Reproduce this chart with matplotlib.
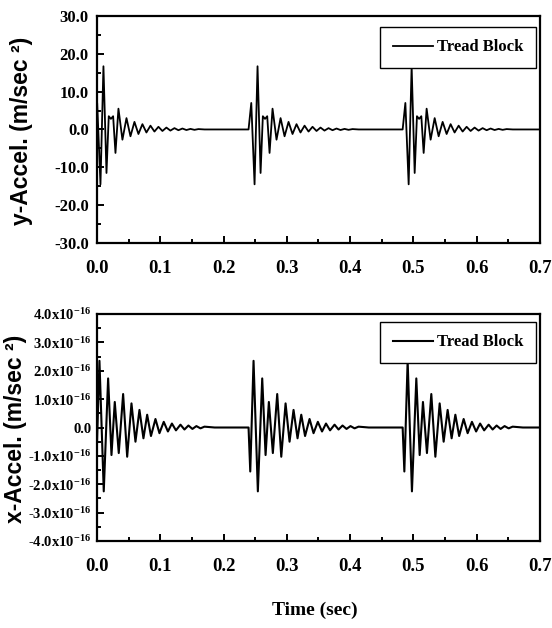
import numpy as np
import matplotlib
matplotlib.use('Agg')
import matplotlib.pyplot as plt
from matplotlib.ticker import MultipleLocator, FuncFormatter

plt.rcParams['font.family'] = 'Liberation Serif'
plt.rcParams['font.weight'] = 'bold'
plt.rcParams['mathtext.fontset'] = 'custom'
plt.rcParams['mathtext.rm'] = 'Liberation Serif:bold'
plt.rcParams['mathtext.it'] = 'Liberation Serif:bold'
plt.rcParams['mathtext.bf'] = 'Liberation Serif:bold'
plt.rcParams['mathtext.default'] = 'rm'

# burst start times (sec), same for both signals
burst_onsets = [-0.004, 0.2395, 0.483]

# y-acceleration burst (time after onset in sec, m/sec^2)
y_burst_t = [0.0, 0.0043, 0.0095, 0.0142, 0.019, 0.0226, 0.026, 0.0295, 0.0332,
             0.0379, 0.0442, 0.0506, 0.0569, 0.0632, 0.0695, 0.0758, 0.0821,
             0.0885, 0.0948, 0.1011, 0.1074, 0.1137, 0.12, 0.1264, 0.1327,
             0.139, 0.1453, 0.1517, 0.158, 0.1643, 0.174]
y_burst_v = [0.0, 7.0, -14.5, 16.7, -11.5, 3.5, 2.8, 3.5, -6.2,
             5.5, -2.7, 3.0, -1.8, 2.0, -1.2, 1.4, -0.8,
             1.0, -0.55, 0.7, -0.4, 0.5, -0.3, 0.35, -0.2,
             0.25, -0.15, 0.15, -0.1, 0.1, 0.0]

# x-acceleration burst (values in units of 1e-16 m/sec^2)
x_burst_t = [0.0, 0.0027, 0.0079, 0.0147, 0.0216, 0.0269, 0.0321, 0.0384,
             0.0453, 0.0517, 0.0585, 0.0648, 0.0711, 0.0774, 0.0833, 0.0893,
             0.0964, 0.1027, 0.1095, 0.1161, 0.1224, 0.1288, 0.1359, 0.1422,
             0.1485, 0.1548, 0.1611, 0.1675, 0.1738, 0.19]
x_burst_v = [0.0, -1.55, 2.35, -2.25, 1.73, -0.97, 0.9, -0.9,
             1.18, -1.03, 0.85, -0.5, 0.62, -0.38, 0.45, -0.3,
             0.3, -0.2, 0.2, -0.14, 0.14, -0.1, 0.1, -0.07,
             0.07, -0.05, 0.05, -0.03, 0.03, 0.0]

t_end = 0.7


def build_signal(onsets, bt, bv):
    t, v = [], []
    for t0 in onsets:
        t.extend(t0 + np.array(bt))
        v.extend(bv)
    t.append(t_end)
    v.append(0.0)
    return np.array(t), np.array(v)


ty, vy = build_signal(burst_onsets, y_burst_t, y_burst_v)
tx, vx = build_signal(burst_onsets, x_burst_t, x_burst_v)

fig = plt.figure(figsize=(5.52, 6.28), dpi=100)
ax1 = fig.add_axes([0.1757, 0.6131, 0.8025, 0.3615])
ax2 = fig.add_axes([0.1757, 0.1385, 0.8025, 0.3615])

ax1.plot(ty, vy, color='black', lw=1.3, label='Tread Block')
ax2.plot(tx, vx, color='black', lw=1.5, label='Tread Block')

ax1.set_ylim(-30, 30)
ax1.yaxis.set_major_locator(MultipleLocator(10))
ax1.yaxis.set_minor_locator(MultipleLocator(5))
ax1.yaxis.set_major_formatter(FuncFormatter(lambda v, p: f'{v:.1f}'))

ax2.set_ylim(-4, 4)
ax2.yaxis.set_major_locator(MultipleLocator(1))
ax2.yaxis.set_minor_locator(MultipleLocator(0.5))


def sci_fmt(v, p):
    if abs(v) < 1e-9:
        return '0.0'
    return f'{v:.1f}x10' + r'$^{\mathregular{-16}}$'


ax2.yaxis.set_major_formatter(FuncFormatter(sci_fmt))

for ax in (ax1, ax2):
    ax.set_xlim(0, 0.7)
    ax.xaxis.set_major_locator(MultipleLocator(0.1))
    ax.xaxis.set_minor_locator(MultipleLocator(0.05))
    ax.xaxis.set_major_formatter(FuncFormatter(lambda v, p: f'{v:.1f}'))
    for s in ax.spines.values():
        s.set_linewidth(1.6)
    ax.tick_params(which='both', direction='in', top=False, right=False, width=1.4)
    ax.tick_params(which='major', length=5)
    ax.tick_params(which='minor', length=3)
    ax.tick_params(axis='x', labelsize=13.5, pad=12)
    ax.tick_params(axis='y', labelsize=12, pad=6)
    for lab in ax.get_xticklabels() + ax.get_yticklabels():
        lab.set_fontweight('bold')

ax2.tick_params(axis='y', labelsize=10.5, pad=4)

leg_kw = dict(loc='upper right', frameon=True, fancybox=False, framealpha=1,
              edgecolor='black', handlelength=2.4, handletextpad=0.25,
              borderpad=0.75, borderaxespad=0,
              prop={'family': 'Liberation Serif', 'weight': 'bold', 'size': 12})
l1 = ax1.legend(bbox_to_anchor=(0.991, 0.952), **leg_kw)
l2 = ax2.legend(bbox_to_anchor=(0.991, 0.965), **leg_kw)
for l in (l1, l2):
    l.get_frame().set_linewidth(1.0)

fig.text(22 / 552, 1 - 131 / 628, 'y-Accel. (m/sec \u00b2)', rotation=90,
         ha='center', va='center', family='Liberation Sans', weight='bold', fontsize=16.5)
fig.text(16 / 552, 1 - 429 / 628, 'x-Accel. (m/sec \u00b2)', rotation=90,
         ha='center', va='center', family='Liberation Sans', weight='bold', fontsize=16.5)
fig.text(315 / 552, 1 - 610 / 628, 'Time (sec)', ha='center', va='center',
         weight='bold', fontsize=14)

fig.savefig('out.png', dpi=100)
